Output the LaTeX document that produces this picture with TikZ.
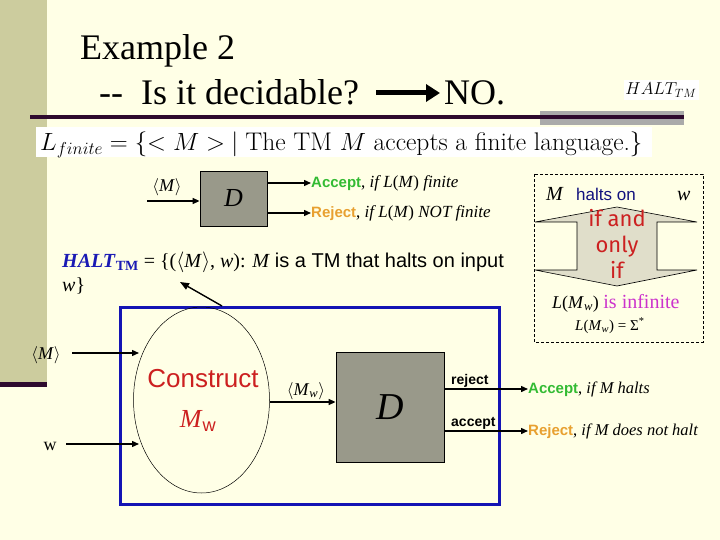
\documentclass[tikz,border=0pt]{standalone}
\usepackage{fontspec}
\setmainfont{Liberation Serif}
\setsansfont{Liberation Sans}
\newfontfamily\comicf{Fira Sans}
\newfontfamily\lmrf{Latin Modern Roman}
\usetikzlibrary{arrows.meta}
\definecolor{bgc}{HTML}{FFFFE6}
\definecolor{olive}{HTML}{CCCC9E}
\definecolor{darkp}{HTML}{2E0A2E}
\definecolor{bandgray}{HTML}{AAAAAA}
\definecolor{boxgray}{HTML}{99998A}
\definecolor{accg}{HTML}{33BB33}
\definecolor{rejo}{HTML}{E8A030}
\definecolor{haltb}{HTML}{1A1AB4}
\definecolor{frameb}{HTML}{1414B4}
\definecolor{cred}{HTML}{CC2020}
\definecolor{magc}{HTML}{CC33CC}
\definecolor{arrfill}{HTML}{E0DECA}
\newcommand{\angM}{$\langle$\textit{M}$\rangle$}
\newcommand{\outtxt}[4]{{\fontsize{15}{15}\selectfont\sffamily\bfseries\textcolor{#1}{#2}}{\fontsize{#4}{#4}\selectfont, \itshape #3}}
\tikzset{
  conn/.style={line width=1.4pt, -{Triangle[length=7pt,width=6pt]}},
  dbox/.style={draw=black, fill=boxgray, line width=0.8pt},
  lbl/.style={inner sep=0pt, anchor=base west},
  fs/.style={font=\fontsize{#1}{#1}\selectfont},
}
\begin{document}
\begin{tikzpicture}[x=1pt,y=-1pt]
\useasboundingbox (0,0) rectangle (720,540);
\fill[bgc] (0,0) rectangle (720,540);
% left bar
\fill[olive] (0,0) rectangle (47,382);
\fill[darkp] (0,382) rectangle (47,387);
% title rule
\fill[bandgray] (540,111) rectangle (684,125);
\draw[darkp, line width=4pt] (30,117) -- (684,117);
% title
\node[lbl, fs=36] (t1) at (80,60) {Example 2};
\node[lbl, fs=36] (t2) at (99,105) {-{}-\ \ Is it decidable?};
\coordinate (ta) at (376,93);
\coordinate (tb) at (440,93);
\draw[line width=5pt, -{Triangle[length=14pt,width=17pt]}] (ta) -- (tb);
\node[lbl, fs=36] (no) at (444,105) {NO.};
% HALT_TM label
\node[fill=white, inner sep=0pt, minimum width=75pt, minimum height=20pt] (hl) at (661,90) {\fontsize{16.5}{16.5}\selectfont$HALT_{TM}$};
% L_finite box
\node[fill=white, anchor=north west, minimum width=616pt, minimum height=30pt, inner sep=0pt] (lf) at (36,127) {};
\node[lbl] (lft) at (40,151) {\fontsize{25.5}{26}\selectfont$L_{finite} = \{< M > \ \mid \mbox{\lmrf The TM } M \mbox{\lmrf\ accepts a finite language.}\}$};
% upper decider
\node[dbox, minimum width=67pt, minimum height=55pt] (D1) at (233.5,198.5) {};
\node[fs=26] at (D1) {\textit{D}};
\coordinate (m1) at (147,201);
\node[fs=18, anchor=base] (m1l) at (167,192) {\angM};
\draw[conn] (m1) -- (D1.west |- m1);
\coordinate (acc1) at (311,183);
\coordinate (rej1) at (311,213);
\draw[conn] (D1.east |- acc1) -- (acc1);
\draw[conn] (D1.east |- rej1) -- (rej1);
\node[lbl, anchor=west] (a1) at (acc1) {\outtxt{accg}{Accept}{if L}{17}{\fontsize{17}{17}\selectfont(\textit{M}) \textit{finite}}};
\node[lbl, anchor=west] (r1) at (rej1) {\outtxt{rejo}{Reject}{if L}{17}{\fontsize{17}{17}\selectfont(\textit{M}) \textit{NOT finite}}};
% HALT definition
\node[lbl, fs=20] (hd) at (62,267) {\textcolor{haltb}{\textbf{\textit{HALT}}\textsubscript{\textbf{TM}}} = \{(\angM, \textit{w}): \textit{M} \textsf{is a TM that halts on input}};
\node[lbl, fs=20] (hd2) at (62,291) {\textit{w}\}};
\coordinate (hp) at (180,282);
% blue frame
\draw[frameb, line width=3pt] (120,307) rectangle (499,504);
\draw[line width=1.4pt, -{Triangle[length=9pt,width=7pt]}] (222,306) -- (hp);
% ellipse
\draw[line width=0.5pt] (201.5,400) ellipse [x radius=68, y radius=93];
\node (ell) at (201.5,400) [minimum width=137pt, minimum height=186pt, inner sep=0pt] {};
\node[text=cred] (cons) at (203,379) {\fontsize{26}{26}\selectfont\sffamily Construct};
\node[text=cred] (mw) at (198,421) {\fontsize{26}{26}\selectfont\textit{M}\textsubscript{\sffamily w}};
% inputs
\node[fs=18, anchor=base] (m2l) at (46,359) {\angM};
\coordinate (m2) at (72,353);
\coordinate (m2e) at (139,353);
\draw[conn] (m2) -- (m2e);
\node[fs=18, anchor=base] (wl) at (50,450) {w};
\coordinate (w2) at (66,444);
\coordinate (w2e) at (139,444);
\draw[conn] (w2) -- (w2e);
% lower decider
\node[dbox, minimum width=108pt, minimum height=110pt] (D2) at (390,407) {};
\node[fs=38] at (D2) {\textit{D}};
\draw[conn] (ell.east |- 0,402) -- (D2.west |- 0,402);
\node[fs=18, anchor=base] (mwl) at (306,395) {$\langle$\textit{M}\textsubscript{\textit{w}}$\rangle$};
% outputs
\coordinate (acc2) at (528,389);
\coordinate (rej2) at (528,431);
\draw[conn] (D2.east |- acc2) -- (acc2);
\draw[conn] (D2.east |- rej2) -- (rej2);
\node[lbl] (rejl) at (451,384) {\fontsize{14}{14}\selectfont\sffamily\bfseries reject};
\node[lbl] (accl) at (451,426) {\fontsize{14}{14}\selectfont\sffamily\bfseries accept};
\node[lbl, anchor=west] (a2) at (acc2) {\outtxt{accg}{Accept}{if M halts}{16.5}};
\node[lbl, anchor=west] (r2) at (rej2) {\outtxt{rejo}{Reject}{if M does not halt}{16.5}};
% right dashed box
\draw[line width=0.5pt, dash pattern=on 3pt off 2pt] (534,174) rectangle (703,342);
\draw[fill=arrfill, line width=0.6pt] (617,207) -- (697,222) -- (657,222) -- (657,270) -- (697,270) -- (617,286) -- (535,270) -- (577,270) -- (577,222) -- (535,222) -- cycle;
\node[lbl, fs=20] (hm) at (546,201) {\textit{M}};
\node[lbl] (ho) at (576,201) {\fontsize{17}{17}\selectfont\sffamily\textcolor{haltb!70!black}{halts on}};
\node[lbl, fs=20] (hw) at (677,201) {\textit{w}};
\node[text=cred, align=center, inner sep=0pt, font=\comicf\fontsize{22}{26}\selectfont] (iff) at (617,244) {if and\\only\\if};
\node[lbl, fs=18] (inf) at (552,308) {\textit{L}(\textit{M}\textsubscript{\textit{w}}) \textcolor{magc}{\fontsize{20}{20}\selectfont is infinite}};
\node[lbl, fs=15] (sig) at (575,330) {\textit{L}(\textit{M}\textsubscript{\textit{w}}) = Σ\textsuperscript{*}};
\end{tikzpicture}
\end{document}
